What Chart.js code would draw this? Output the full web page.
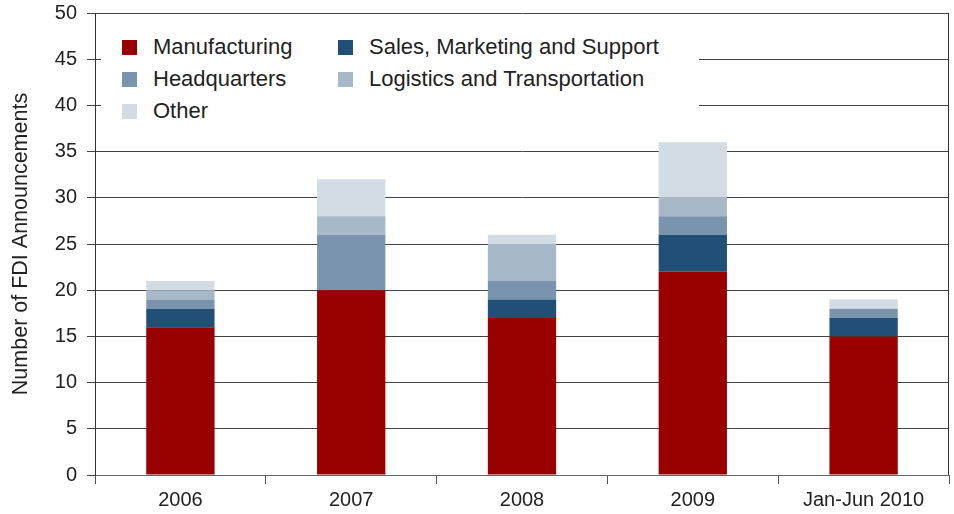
<!DOCTYPE html>
<html>
<head>
<meta charset="utf-8">
<script src="https://cdn.jsdelivr.net/npm/chart.js@4"></script>
<style>
  html, body { margin: 0; padding: 0; background: #fff; }
  #wrap { position: relative; width: 954px; height: 514px; }
  #legend { position: absolute; left: 101px; top: 22px; width: 598px; height: 106px; background: #fff;
            font-family: "Liberation Sans", Arial, sans-serif; font-size: 22px; color: #222; }
  .item { position: absolute; height: 22px; line-height: 22px; white-space: nowrap; }
  .sw { position: absolute; left: 0; top: 4px; width: 15px; height: 15px; }
  .lbl { position: absolute; left: 31px; top: 0; }
</style>
</head>
<body>
<div id="wrap">
  <canvas id="c" width="954" height="514"></canvas>
  <div id="legend"></div>
</div>
<script>
const categories = ["2006", "2007", "2008", "2009", "Jan-Jun 2010"];
const manufacturing = [16, 20, 17, 22, 15];
const salesMarketing = [2, 0, 2, 4, 2];
const headquarters = [1, 6, 2, 2, 1];
const logistics = [1, 2, 4, 2, 0];
const other = [1, 4, 1, 6, 1];
const seriesNames = ["Manufacturing", "Sales, Marketing and Support", "Headquarters", "Logistics and Transportation", "Other"];
const seriesColors = ["#990000", "#224F75", "#7A94AD", "#A7B8C8", "#D3DCE5"];
const seriesValues = [manufacturing, salesMarketing, headquarters, logistics, other];

const FONT = '"Liberation Sans", Arial, sans-serif';
const TXT = '#222';

const rightBorder = {
  id: 'rightBorder',
  afterDraw(chart) {
    const {ctx, chartArea} = chart;
    ctx.save();
    ctx.strokeStyle = '#333';
    ctx.lineWidth = 1;
    ctx.beginPath();
    ctx.moveTo(chartArea.right - 0.5, chartArea.top);
    ctx.lineTo(chartArea.right - 0.5, chartArea.bottom);
    ctx.stroke();
    ctx.restore();
  }
};

new Chart(document.getElementById('c'), {
  type: 'bar',
  data: {
    labels: categories,
    datasets: seriesValues.map((v, i) => ({
      label: seriesNames[i],
      data: v,
      backgroundColor: seriesColors[i],
      borderWidth: 0,
      barPercentage: 0.4,
      categoryPercentage: 1.0
    }))
  },
  plugins: [rightBorder],
  options: {
    responsive: false,
    animation: false,
    layout: { padding: { top: 13, right: 5, left: 0, bottom: 0 } },
    plugins: { legend: { display: false }, tooltip: { enabled: false } },
    scales: {
      x: {
        stacked: true,
        afterFit(s) { s.height = 39; s.paddingLeft = 0; s.paddingRight = 0; },
        grid: { offset: true, drawOnChartArea: false, tickLength: 9, color: '#555', lineWidth: 1 },
        border: { display: true, color: '#666', width: 1 },
        ticks: { color: TXT, font: { family: FONT, size: 20 }, padding: 4, maxRotation: 0 }
      },
      y: {
        stacked: true,
        min: 0, max: 50,
        afterFit(s) { s.width = 95; s.paddingTop = 0; s.paddingBottom = 0; },
        ticks: { stepSize: 5, color: TXT, font: { family: FONT, size: 20 }, padding: 10 },
        grid: { color: '#444', lineWidth: 1, tickLength: 8 },
        border: { display: true, color: '#333', width: 1 },
        title: { display: true, text: 'Number of FDI Announcements', color: TXT,
                 font: { family: FONT, size: 21.5 }, padding: { top: 8, bottom: 4 } }
      }
    }
  }
});

const legendItems = [
  { i: 0, x: 21, y: 14 }, { i: 1, x: 237, y: 14 },
  { i: 2, x: 21, y: 46 }, { i: 3, x: 237, y: 46 },
  { i: 4, x: 21, y: 78 }
];
const lg = document.getElementById('legend');
legendItems.forEach(it => {
  const d = document.createElement('div');
  d.className = 'item';
  d.style.left = it.x + 'px';
  d.style.top = it.y + 'px';
  const sw = document.createElement('span');
  sw.className = 'sw';
  sw.style.background = seriesColors[it.i];
  const t = document.createElement('span');
  t.className = 'lbl';
  t.textContent = seriesNames[it.i];
  d.appendChild(sw); d.appendChild(t);
  lg.appendChild(d);
});
</script>
</body>
</html>
